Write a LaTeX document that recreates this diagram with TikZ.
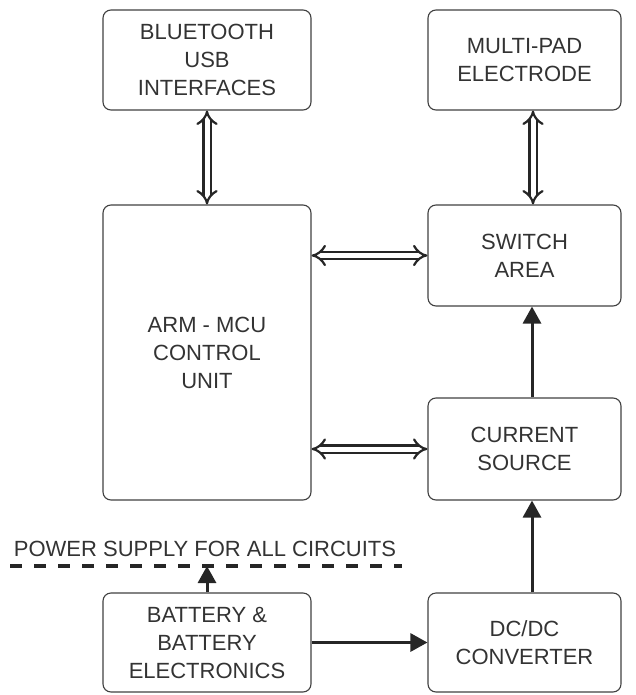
\documentclass[tikz,border=0pt]{standalone}
\usepackage{fontspec}
\setmainfont{Liberation Sans}
\usetikzlibrary{arrows.meta, positioning, calc}

\begin{document}
\begin{tikzpicture}[
x=1pt, y=-1pt,
    block/.style={rectangle, draw=black!75, line width=1.1pt, rounded corners=8pt, align=center, text=black!80, font=\fontsize{22}{28}\selectfont},
    dbl/.style={draw=black!85, double=white, double distance=5pt, line width=2.2pt, {Implies[scale=1.25]}-{Implies[scale=1.25]}},
    flow/.style={draw=black!85, line width=3pt, -{Triangle[length=17pt, width=18pt]}},
    bus/.style={draw=black!85, line width=4pt, dash pattern=on 12pt off 12pt}
]
    \useasboundingbox (0,0) rectangle (635,695);

    % Blocks
    \node[block, minimum width=208pt, minimum height=100pt] (bt) at (207,60) {BLUETOOTH\\USB\\INTERFACES};
    \node[block, minimum width=193pt, minimum height=100pt] (pad) at (524.5,60) {MULTI-PAD\\ELECTRODE};
    \node[block, minimum width=208pt, minimum height=295pt] (arm) at (207,352.5) {ARM - MCU\\CONTROL\\UNIT};
    \node[block, minimum width=193pt, minimum height=101pt] (sw) at (524.5,255.5) {SWITCH\\AREA};
    \node[block, minimum width=193pt, minimum height=102pt] (cs) at (524.5,449) {CURRENT\\SOURCE};
    \node[block, minimum width=208pt, minimum height=99pt] (bat) at (207,642.5) {BATTERY \&\\BATTERY\\ELECTRONICS};
    \node[block, minimum width=193pt, minimum height=99pt] (dc) at (524.5,642.5) {DC/DC\\CONVERTER};

    % Power line
    \coordinate (pl) at (10,566);
    \coordinate (pr) at (402,566);
    \draw[bus] (pl) -- (pr);
    \node[font=\fontsize{22}{26}\selectfont, text=black!80, anchor=base] (pwr) at (205,556) {POWER SUPPLY FOR ALL CIRCUITS};

    % Connections
    \draw[dbl] (bt.south) -- (arm.north);
    \draw[dbl] (pad.south -| 533,0) -- (sw.north -| 533,0);
    \draw[dbl] (arm.east |- sw.west) -- (sw.west);
    \draw[dbl] (arm.east |- cs.west) -- (cs.west);

    \draw[flow] (bat.east) -- (dc.west);
    \draw[flow] (dc.north -| 532,0) -- (cs.south -| 532,0);
    \draw[flow] (cs.north -| 532,0) -- (sw.south -| 532,0);
    \draw[flow] (bat.north) -- (bat.north |- pl);

\end{tikzpicture}
\end{document}
